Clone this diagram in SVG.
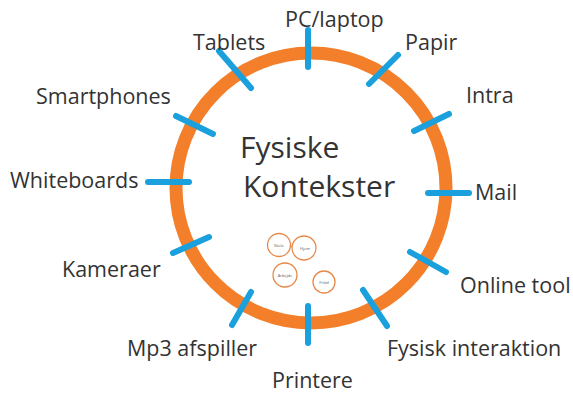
<svg xmlns="http://www.w3.org/2000/svg" width="573" height="398" viewBox="0 0 573 398">
  <style>
    .lbl { font-family: "Open Sans", "Liberation Sans", sans-serif; font-size: 21.5px; fill: #333333; }
    .title { font-family: "Open Sans", "Liberation Sans", sans-serif; font-size: 30px; fill: #333333; }
    .tick { stroke: #1aa0dc; stroke-width: 6; stroke-linecap: round; fill: none; }
    .mini { fill: #ffffff; stroke: #e8894a; stroke-width: 1.3; }
    .minit { font-family: "Open Sans", "Liberation Sans", sans-serif; font-size: 4px; fill: #555555; text-anchor: middle; }
  </style>
  <rect width="573" height="398" fill="#ffffff"/>

  <!-- central ring -->
  <g id="ring">
    <circle cx="311" cy="188" r="135" fill="none" stroke="#f37f2b" stroke-width="13"/>
    <text class="title" x="240" y="158">Fysiske</text>
    <text class="title" x="243" y="197">Kontekster</text>
  </g>

  <!-- small context circles -->
  <g id="contexts">
    <circle class="mini" cx="279" cy="245" r="11.5"/>
    <text class="minit" x="279" y="246.5">Skole</text>
    <circle class="mini" cx="304" cy="248" r="12"/>
    <text class="minit" x="305" y="249.5">Hjem</text>
    <circle cx="291.5" cy="246.5" r="0.8" fill="#e8894a"/>
    <circle class="mini" cx="285" cy="275" r="12"/>
    <text class="minit" x="285" y="276.5">Arbejde</text>
    <circle class="mini" cx="324" cy="282" r="11"/>
    <text class="minit" x="324" y="283.5">Fritid</text>
  </g>

  <!-- ticks across the ring -->
  <g id="connectors">
    <line class="tick" x1="308" y1="30" x2="308" y2="67"/>
    <line class="tick" x1="369" y1="84" x2="398" y2="55"/>
    <line class="tick" x1="219" y1="51" x2="251" y2="88"/>
    <line class="tick" x1="414" y1="131" x2="449" y2="114"/>
    <line class="tick" x1="176" y1="116" x2="213" y2="134"/>
    <line class="tick" x1="428" y1="193" x2="469" y2="193"/>
    <line class="tick" x1="148" y1="182" x2="189" y2="182"/>
    <line class="tick" x1="410" y1="252" x2="446" y2="272"/>
    <line class="tick" x1="173" y1="253" x2="209" y2="237"/>
    <line class="tick" x1="363" y1="290" x2="387" y2="326"/>
    <line class="tick" x1="232" y1="325" x2="251" y2="292"/>
    <line class="tick" x1="308" y1="306" x2="308" y2="343"/>
  </g>

  <g id="pc"><text class="lbl" x="285" y="27">PC/laptop</text></g>
  <g id="tablets"><text class="lbl" x="193" y="50">Tablets</text></g>
  <g id="papir"><text class="lbl" x="405" y="50">Papir</text></g>
  <g id="smartphones"><text class="lbl" x="36" y="104">Smartphones</text></g>
  <g id="intra"><text class="lbl" x="466" y="103">Intra</text></g>
  <g id="whiteboards"><text class="lbl" x="10" y="188">Whiteboards</text></g>
  <g id="mail"><text class="lbl" x="475" y="200">Mail</text></g>
  <g id="kameraer"><text class="lbl" x="62" y="277">Kameraer</text></g>
  <g id="online"><text class="lbl" x="460" y="293">Online tool</text></g>
  <g id="mp3"><text class="lbl" x="127" y="356">Mp3 afspiller</text></g>
  <g id="fysisk"><text class="lbl" x="387" y="356">Fysisk interaktion</text></g>
  <g id="printere"><text class="lbl" x="272" y="388">Printere</text></g>
</svg>
